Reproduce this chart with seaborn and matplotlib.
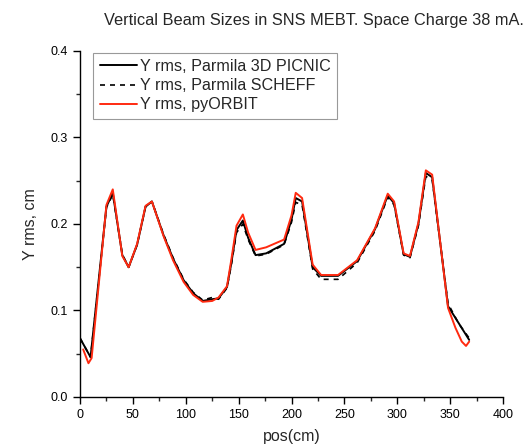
import matplotlib
matplotlib.use("Agg")
import matplotlib.pyplot as plt
import pandas as pd
import seaborn as sns
from matplotlib.ticker import MultipleLocator

# Parmila 3D PICNIC
picnic_pos = [0, 10, 25, 31, 40, 46, 54, 62, 68, 79, 88, 98, 107, 116, 125, 131, 139, 143, 148, 154,
              159, 166, 176, 193, 200, 204, 210, 220, 228, 244, 262, 279, 291, 297, 306, 312, 320,
              327, 333, 348, 368]
picnic_y = [0.068, 0.046, 0.220, 0.236, 0.164, 0.150, 0.176, 0.220, 0.226, 0.187, 0.160, 0.135,
            0.120, 0.111, 0.113, 0.114, 0.127, 0.154, 0.193, 0.204, 0.184, 0.164, 0.166, 0.177,
            0.205, 0.230, 0.226, 0.150, 0.140, 0.140, 0.157, 0.194, 0.233, 0.224, 0.165, 0.162,
            0.200, 0.259, 0.254, 0.105, 0.066]

# Parmila SCHEFF
scheff_pos = [0, 10, 25, 31, 40, 46, 54, 62, 68, 79, 88, 98, 107, 116, 125, 131, 139, 143, 148, 154,
              159, 166, 176, 193, 200, 204, 210, 220, 228, 244, 262, 279, 291, 297, 306, 312, 320,
              327, 333, 348, 358, 368]
scheff_y = [0.068, 0.046, 0.219, 0.234, 0.165, 0.150, 0.176, 0.220, 0.226, 0.188, 0.161, 0.136,
            0.121, 0.112, 0.115, 0.113, 0.126, 0.152, 0.190, 0.200, 0.182, 0.163, 0.165, 0.176,
            0.202, 0.225, 0.222, 0.148, 0.136, 0.136, 0.155, 0.192, 0.231, 0.222, 0.164, 0.161,
            0.198, 0.255, 0.251, 0.108, 0.085, 0.068]

# pyORBIT
orbit_pos = [3, 8, 11, 25, 31, 40, 46, 54, 62, 68, 79, 88, 98, 107, 116, 125, 131, 139, 143, 148, 154,
             159, 166, 176, 193, 200, 204, 210, 220, 228, 244, 262, 279, 291, 297, 306, 312, 320,
             327, 333, 348, 355, 361, 365, 368]
orbit_y = [0.055, 0.039, 0.045, 0.222, 0.240, 0.163, 0.150, 0.177, 0.221, 0.226, 0.186, 0.158,
           0.133, 0.118, 0.110, 0.111, 0.115, 0.128, 0.158, 0.198, 0.211, 0.190, 0.170, 0.173,
           0.182, 0.210, 0.236, 0.230, 0.153, 0.141, 0.141, 0.158, 0.195, 0.235, 0.226, 0.166,
           0.163, 0.202, 0.262, 0.257, 0.103, 0.080, 0.064, 0.059, 0.064]

sns.set_style("ticks")
plt.rcParams["font.family"] = ["Liberation Sans", "DejaVu Sans"]

fig = plt.figure(figsize=(5.28, 4.47), dpi=100)
ax = fig.add_axes([0.1515, 0.1119, 0.8012, 0.7741])

sns.lineplot(x=picnic_pos, y=picnic_y, color="black", linewidth=1.4, ax=ax,
             label="Y rms, Parmila 3D PICNIC")
sns.lineplot(x=scheff_pos, y=scheff_y, color="black", linewidth=1.2, linestyle=(0, (3, 3)), ax=ax,
             label="Y rms, Parmila SCHEFF")
sns.lineplot(x=orbit_pos, y=orbit_y, color="#ff2a10", linewidth=1.4, ax=ax,
             label="Y rms, pyORBIT")

ax.set_xlim(0, 400)
ax.set_ylim(0, 0.4)
ax.xaxis.set_major_locator(MultipleLocator(50))
ax.xaxis.set_minor_locator(MultipleLocator(25))
ax.yaxis.set_major_locator(MultipleLocator(0.1))
ax.yaxis.set_minor_locator(MultipleLocator(0.05))
ax.yaxis.set_major_formatter(matplotlib.ticker.FormatStrFormatter("%.1f"))
ax.tick_params(which="major", direction="out", length=5, width=1, labelsize=9, colors="black")
ax.tick_params(which="minor", direction="out", length=3, width=1)
for side in ["top", "right"]:
    ax.spines[side].set_visible(False)
for side in ["left", "bottom"]:
    ax.spines[side].set_linewidth(1)
    ax.spines[side].set_color("black")

ax.set_xlabel("pos(cm)", fontsize=11.5, labelpad=6)
ax.set_ylabel("Y rms, cm", fontsize=11.5, labelpad=9)

leg = ax.legend(loc="upper left", bbox_to_anchor=(0.031, 0.995), fontsize=11.6, frameon=True,
                fancybox=False, handlelength=2.3, handletextpad=0.2, borderpad=0.4,
                labelspacing=0.25, borderaxespad=0)
leg.get_frame().set_edgecolor("#808080")
leg.get_frame().set_linewidth(0.8)

fig.text(0.595, 0.955, "Vertical Beam Sizes in SNS MEBT. Space Charge 38 mA.", ha="center",
         va="center", fontsize=11.8)

fig.savefig("out.png", dpi=100)
